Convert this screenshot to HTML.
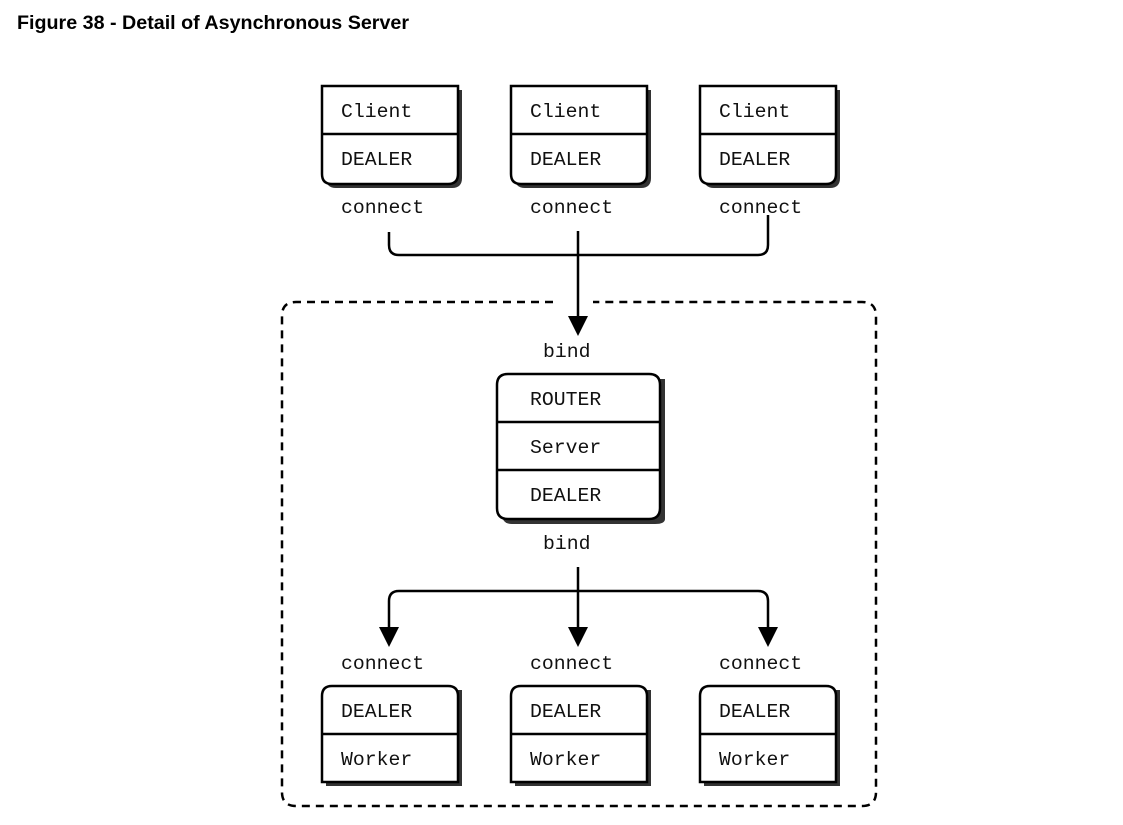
<!DOCTYPE html>
<html><head><style>
body{margin:0;background:#fff;width:1123px;height:825px;overflow:hidden}
svg{position:absolute;left:0;top:0}
.t{font-family:"Liberation Mono","DejaVu Sans Mono",monospace;font-size:19.8px;fill:#111}
.h{font-family:"Liberation Sans",sans-serif;font-weight:bold;font-size:19.7px;fill:#000}
</style></head><body>
<svg width="1123" height="825" viewBox="0 0 1123 825">
<text class="h" x="17" y="29">Figure 38 - Detail of Asynchronous Server</text>
<defs>
<g id="cl">
<path d="M4 4 H140 V92 Q140 102 130 102 H14 Q4 102 4 92 Z" fill="#333"/>
<path d="M0 0 H136 V88 Q136 98 126 98 H10 Q0 98 0 88 Z" fill="#fff" stroke="#000" stroke-width="2.5"/>
<line x1="0" y1="48" x2="136" y2="48" stroke="#000" stroke-width="2.5"/>
</g>
<g id="wk">
<path d="M4 4 H140 V100 H4 Z" fill="#333"/>
<path d="M10 0 H126 Q136 0 136 10 V96 H0 V10 Q0 0 10 0 Z" fill="#fff" stroke="#000" stroke-width="2.5"/>
<line x1="0" y1="48" x2="136" y2="48" stroke="#000" stroke-width="2.5"/>
</g>
</defs>
<use href="#cl" x="322" y="86"/><use href="#cl" x="511" y="86"/><use href="#cl" x="700" y="86"/>
<g class="t">
<text x="341" y="117">Client</text><text x="530" y="117">Client</text><text x="719" y="117">Client</text>
<text x="341" y="165">DEALER</text><text x="530" y="165">DEALER</text><text x="719" y="165">DEALER</text>
<text x="341" y="213">connect</text><text x="530" y="213">connect</text><text x="719" y="213">connect</text>
</g>
<path d="M553 302 H296 Q282 302 282 316 V792 Q282 806 296 806 H862 Q876 806 876 792 V316 Q876 302 862 302 H593" fill="none" stroke="#000" stroke-width="2.5" stroke-dasharray="8,6"/>
<path d="M389 232 V245 Q389 255 399 255 H758 Q768 255 768 245 V215" fill="none" stroke="#000" stroke-width="2.5"/>
<line x1="578" y1="231" x2="578" y2="318" stroke="#000" stroke-width="2.5"/>
<polygon points="568,316 588,316 578,336" fill="#000"/>
<text class="t" x="543" y="357">bind</text>
<path d="M502 379 H665 V519 Q665 524 655 524 H512 Q502 524 502 514 Z" fill="#333"/>
<path d="M508 374 H649 Q660 374 660 385 V508 Q660 519 649 519 H508 Q497 519 497 508 V385 Q497 374 508 374 Z" fill="#fff" stroke="#000" stroke-width="2.5"/>
<line x1="497" y1="422" x2="660" y2="422" stroke="#000" stroke-width="2.5"/>
<line x1="497" y1="470" x2="660" y2="470" stroke="#000" stroke-width="2.5"/>
<g class="t">
<text x="530" y="405">ROUTER</text><text x="530" y="453">Server</text><text x="530" y="501">DEALER</text>
<text x="543" y="549">bind</text>
</g>
<line x1="578" y1="567" x2="578" y2="630" stroke="#000" stroke-width="2.5"/>
<path d="M389 630 V601 Q389 591 399 591 H758 Q768 591 768 601 V630" fill="none" stroke="#000" stroke-width="2.5"/>
<polygon points="379,627 399,627 389,647" fill="#000"/>
<polygon points="568,627 588,627 578,647" fill="#000"/>
<polygon points="758,627 778,627 768,647" fill="#000"/>
<use href="#wk" x="322" y="686"/><use href="#wk" x="511" y="686"/><use href="#wk" x="700" y="686"/>
<g class="t">
<text x="341" y="669">connect</text><text x="530" y="669">connect</text><text x="719" y="669">connect</text>
<text x="341" y="717">DEALER</text><text x="530" y="717">DEALER</text><text x="719" y="717">DEALER</text>
<text x="341" y="765">Worker</text><text x="530" y="765">Worker</text><text x="719" y="765">Worker</text>
</g>
</svg>
</body></html>
